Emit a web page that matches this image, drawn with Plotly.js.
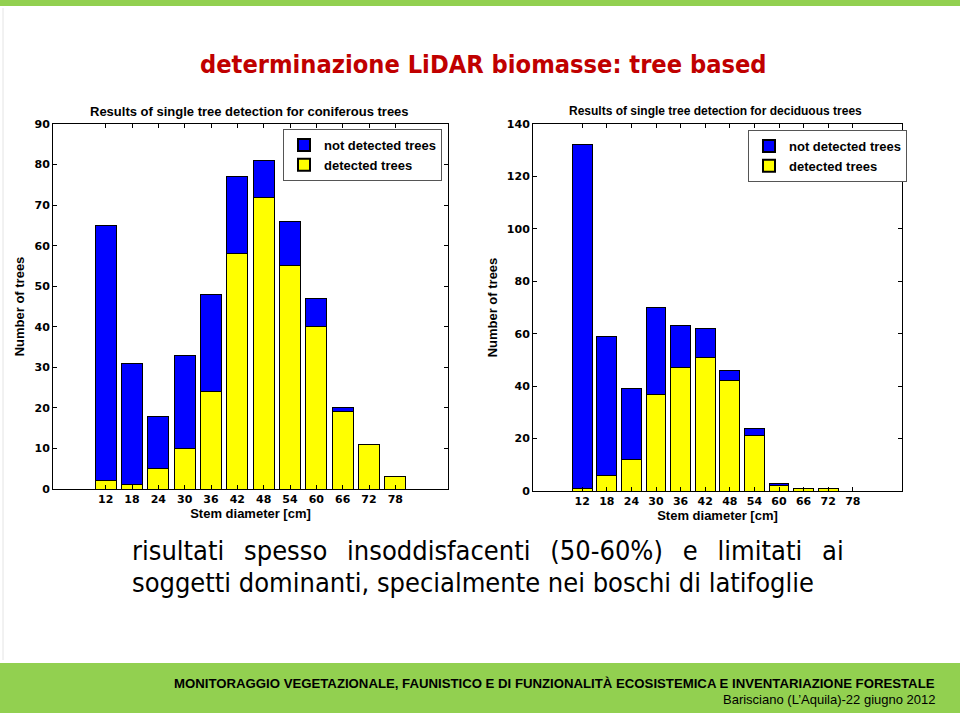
<!DOCTYPE html>
<html>
<head>
<meta charset="utf-8">
<script src="https://cdn.plot.ly/plotly-3.0.1.min.js"></script>
<style>
html,body{margin:0;padding:0;background:#fff;}
#chart{width:960px;height:716px;}
</style>
</head>
<body>
<div id="chart"></div>
<script>
// Stem diameter classes [cm]
const diameters = [12, 18, 24, 30, 36, 42, 48, 54, 60, 66, 72, 78];
// Coniferous trees
const conDetected    = [2, 1, 5, 10, 24, 58, 72, 55, 40, 19, 11, 3];
const conNotDetected = [63, 30, 13, 23, 24, 19, 9, 11, 7, 1, 0, 0];
// Deciduous trees
const decDetected    = [1, 6, 12, 37, 47, 51, 42, 21, 2, 1, 1, 0];
const decNotDetected = [131, 53, 27, 33, 16, 11, 4, 3, 1, 0, 0, 0];

const BLUE = '#0000FF', YELLOW = '#FFFF00';
const tickFont = {family: 'DejaVu Sans, sans-serif', size: 11, color: '#000', weight: 'bold'};
const titleFont = {family: 'Liberation Sans, Arial, sans-serif', size: 13, color: '#000', weight: 'bold'};
const comic = 'Comic Sans MS, DejaVu Sans Condensed, DejaVu Sans, sans-serif';

function bar(x, y, name, color, xa, ya, legend) {
  return {type: 'bar', x: x, y: y, name: name, xaxis: xa, yaxis: ya, legend: legend,
    showlegend: true, width: 4.8,
    marker: {color: color, line: {color: '#000', width: 1}}, hoverinfo: 'x+y+name'};
}

const data = [
  bar(diameters, conDetected, 'detected trees', YELLOW, 'x', 'y', 'legend'),
  bar(diameters, conNotDetected, 'not detected trees', BLUE, 'x', 'y', 'legend'),
  bar(diameters, decDetected, 'detected trees', YELLOW, 'x2', 'y2', 'legend2'),
  bar(diameters, decNotDetected, 'not detected trees', BLUE, 'x2', 'y2', 'legend2')
];

function xax(domain, anchor) {
  return {domain: domain, anchor: anchor, range: [0, 90], tickmode: 'array', tickvals: diameters,
    ticks: 'inside', ticklen: 4, tickcolor: '#000', showline: true, linecolor: '#000', linewidth: 1,
    mirror: 'ticks', showgrid: false, zeroline: false, tickfont: tickFont, automargin: false,
    title: {text: 'Stem diameter [cm]', font: titleFont, standoff: 0}};
}
function yax(domain, anchor, range, dtick) {
  return {domain: domain, anchor: anchor, range: range, dtick: dtick, ticks: 'inside', ticklen: 4,
    tickcolor: '#000', showline: true, linecolor: '#000', linewidth: 1, mirror: 'ticks',
    showgrid: false, zeroline: false, tickfont: tickFont, automargin: false,
    title: {text: 'Number of trees', font: titleFont, standoff: 6}};
}

const legendStyle = (x, y) => ({x: x, y: y, xanchor: 'left', yanchor: 'top', xref: 'paper', yref: 'paper',
  bgcolor: '#fff', bordercolor: '#555', borderwidth: 1, traceorder: 'reversed',
  font: {family: 'Liberation Sans, Arial, sans-serif', size: 13, color: '#000', weight: 'bold'},
  itemsizing: 'constant', tracegroupgap: 0, itemwidth: 30});

const layout = {
  width: 960, height: 716,
  margin: {l: 0, r: 0, t: 0, b: 0},
  paper_bgcolor: '#fff', plot_bgcolor: '#fff',
  barmode: 'stack',
  showlegend: true,
  xaxis: xax([53/960, 448/960], 'y'),
  yaxis: yax([1 - 489/716, 1 - 124/716], 'x', [0, 90], 10),
  xaxis2: xax([533/960, 902/960], 'y2'),
  yaxis2: yax([1 - 491/716, 1 - 124/716], 'x2', [0, 140], 20),
  legend: legendStyle(283/960, 1 - 129/716),
  legend2: legendStyle(748/960, 1 - 130/716),
  shapes: [
    {type: 'rect', xref: 'paper', yref: 'paper', x0: 0, x1: 1, y0: 1 - 6/716, y1: 1, fillcolor: '#92D050', line: {width: 0}, layer: 'below'},
    {type: 'rect', xref: 'paper', yref: 'paper', x0: 0, x1: 1, y0: 1 - 713/716, y1: 1 - 663/716, fillcolor: '#92D050', line: {width: 0}, layer: 'below'},
    {type: 'line', xref: 'paper', yref: 'paper', x0: 3/960, x1: 3/960, y0: 1 - 660/716, y1: 1 - 8/716, line: {color: '#e4e4e4', width: 1}, layer: 'below'}
  ],
  annotations: [
    {text: 'determinazione LiDAR biomasse: tree based', xref: 'paper', yref: 'paper', x: 483/960, y: 1 - 64/716,
      xanchor: 'center', yanchor: 'middle', showarrow: false,
      font: {family: comic, size: 25.2, color: '#C00000', weight: 'bold'}},
    {text: 'Results of single tree detection for coniferous trees', xref: 'paper', yref: 'paper', x: 249/960, y: 1 - 111/716,
      xanchor: 'center', yanchor: 'middle', showarrow: false, font: titleFont},
    {text: 'Results of single tree detection for deciduous trees', xref: 'paper', yref: 'paper', x: 715/960, y: 1 - 111/716,
      xanchor: 'center', yanchor: 'middle', showarrow: false, font: {family: 'Liberation Sans, Arial, sans-serif', size: 12, color: '#000', weight: 'bold'}},
    {text: ['risultati', 'spesso', 'insoddisfacenti', '(50-60%)', 'e', 'limitati', 'ai'].join('\u2002 '), xref: 'paper', yref: 'paper', x: 130/960, y: 1 - 550/716,
      xanchor: 'left', yanchor: 'middle', showarrow: false,
      font: {family: comic, size: 27, color: '#000'}},
    {text: 'soggetti dominanti, specialmente nei boschi di latifoglie', xref: 'paper', yref: 'paper', x: 130/960, y: 1 - 582/716,
      xanchor: 'left', yanchor: 'middle', showarrow: false,
      font: {family: comic, size: 27, color: '#000'}},
    {text: 'MONITORAGGIO VEGETAZIONALE, FAUNISTICO E DI FUNZIONALITÀ ECOSISTEMICA E INVENTARIAZIONE FORESTALE', xref: 'paper', yref: 'paper', x: 937/960, y: 1 - 683/716,
      xanchor: 'right', yanchor: 'middle', showarrow: false,
      font: {family: 'Liberation Sans Narrow, Arial Narrow, Liberation Sans, sans-serif', size: 13.2, color: '#000', weight: 'bold'}},
    {text: 'Barisciano (L’Aquila)-22 giugno 2012', xref: 'paper', yref: 'paper', x: 937/960, y: 1 - 699/716,
      xanchor: 'right', yanchor: 'middle', showarrow: false,
      font: {family: 'Liberation Sans Narrow, Arial Narrow, Liberation Sans, sans-serif', size: 13, color: '#000'}}
  ]
};

Plotly.newPlot('chart', data, layout, {displayModeBar: false, responsive: false});
</script>
</body>
</html>
